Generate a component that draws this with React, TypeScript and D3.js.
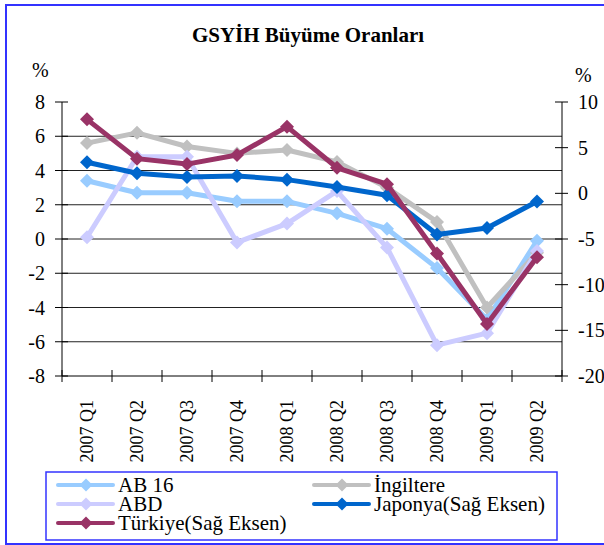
import React from "react";
import * as d3 from "d3";

const categories = ["2007 Q1","2007 Q2","2007 Q3","2007 Q4","2008 Q1","2008 Q2","2008 Q3","2008 Q4","2009 Q1","2009 Q2"];
const ab16 = [3.4, 2.7, 2.7, 2.2, 2.2, 1.5, 0.6, -1.7, -4.7, -0.1];
const ingiltere = [5.6, 6.2, 5.4, 5.0, 5.2, 4.5, 3.0, 1.0, -4.0, -0.8];
const abd = [0.1, 4.8, 4.8, -0.2, 0.9, 2.8, -0.5, -6.2, -5.5, -0.7];
const japonya = [3.4, 2.2, 1.8, 1.9, 1.5, 0.7, -0.2, -4.5, -3.8, -0.9];
const turkiye = [8.1, 3.8, 3.2, 4.2, 7.3, 2.8, 1.0, -6.6, -14.3, -7.0];
const leftTicks = [8, 6, 4, 2, 0, -2, -4, -6, -8];
const rightTicks = [10, 5, 0, -5, -10, -15, -20];

const FONT = "Liberation Serif, Times New Roman, DejaVu Serif, serif";

const series = [
  { name: "AB 16", values: ab16, color: "#99ccff", axis: "L" },
  { name: "İngiltere", values: ingiltere, color: "#c0c0c0", axis: "L" },
  { name: "ABD", values: abd, color: "#ccccff", axis: "L" },
  { name: "Japonya(Sağ Eksen)", values: japonya, color: "#0066cc", axis: "R" },
  { name: "Türkiye(Sağ Eksen)", values: turkiye, color: "#993366", axis: "R" },
];

const T = (props: any) => <text {...props} style={{ fontFamily: FONT, ...(props.style || {}) }} />;

export default function App() {
  const left = 62, right = 562, top = 102, bottom = 376;
  const x = d3.scaleBand<string>().domain(categories).range([left, right]);
  const yL = d3.scaleLinear().domain([-8, 8]).range([bottom, top]);
  const yR = d3.scaleLinear().domain([-20, 10]).range([bottom, top]);
  const cx = (c: string) => (x(c) as number) + x.bandwidth() / 2;
  const diamond = (px: number, py: number, r: number) =>
    `M${px},${py - r}L${px + r},${py}L${px},${py + r}L${px - r},${py}Z`;

  const legendItems = [
    { s: series[0], lx: 58, ly: 485 },
    { s: series[1], lx: 314, ly: 485 },
    { s: series[2], lx: 58, ly: 504 },
    { s: series[3], lx: 314, ly: 504 },
    { s: series[4], lx: 58, ly: 523 },
  ];

  return (
    <svg width={604} height={545} style={{ position: "absolute", left: 0, top: 0 }}>
      <rect x={0} y={0} width={604} height={545} fill="#fff" />
      <rect x={6} y={5} width={620} height={539} fill="none" stroke="#3333ff" strokeWidth={2} />
      <T x={308} y={42} textAnchor="middle" fontSize={21} fontWeight="bold">GSYİH Büyüme Oranları</T>
      <T x={32} y={77} fontSize={20}>%</T>
      <T x={575} y={82} fontSize={20}>%</T>

      {leftTicks.filter((t) => t !== 8 && t !== -8).map((t) => (
        <line key={"g" + t} x1={left} x2={right} y1={yL(t)} y2={yL(t)} stroke="#222" strokeWidth={1} />
      ))}
      {leftTicks.map((t) => (
        <g key={"l" + t}>
          <line x1={left - 7} x2={left + 6} y1={yL(t)} y2={yL(t)} stroke="#000" />
          <T x={45} y={yL(t)} dy="0.35em" textAnchor="end" fontSize={20}>{t}</T>
        </g>
      ))}
      {rightTicks.map((t) => (
        <g key={"r" + t}>
          <line x1={right - 7} x2={right + 6} y1={yR(t)} y2={yR(t)} stroke="#000" />
          <T x={578} y={yR(t)} dy="0.35em" textAnchor="start" fontSize={20}>{t}</T>
        </g>
      ))}
      <line x1={left} x2={left} y1={top} y2={bottom} stroke="#000" />
      <line x1={right} x2={right} y1={top} y2={bottom} stroke="#000" />
      <line x1={left} x2={right} y1={bottom} y2={bottom} stroke="#000" />
      {d3.range(categories.length + 1).map((i) => {
        const xx = left + i * x.step();
        return <line key={"xt" + i} x1={xx} x2={xx} y1={bottom - 6} y2={bottom + 6} stroke="#000" />;
      })}
      {categories.map((c) => (
        <T key={c} transform={`translate(${cx(c) + 6},400) rotate(-90)`} textAnchor="end" fontSize={18}>{c}</T>
      ))}

      {series.map((s) => {
        const yy = s.axis === "L" ? yL : yR;
        const line = d3.line<number>().x((_, i) => cx(categories[i])).y((v) => yy(v));
        return (
          <g key={s.name}>
            <path d={line(s.values) || ""} fill="none" stroke={s.color} strokeWidth={5} strokeLinejoin="round" />
            {s.values.map((v, i) => (
              <path key={i} d={diamond(cx(categories[i]), yy(v), 7)} fill={s.color} />
            ))}
          </g>
        );
      })}

      <rect x={46} y={472} width={511} height={68} fill="#fff" stroke="#3333ff" strokeWidth={1.5} />
      {legendItems.map(({ s, lx, ly }) => (
        <g key={"lg" + s.name}>
          <line x1={lx} x2={lx + 55} y1={ly} y2={ly} stroke={s.color} strokeWidth={4} strokeLinecap="round" />
          <path d={diamond(lx + 28, ly, 6.5)} fill={s.color} />
          <T x={lx + 60} y={ly} dy="0.35em" fontSize={21}>{s.name}</T>
        </g>
      ))}
    </svg>
  );
}
